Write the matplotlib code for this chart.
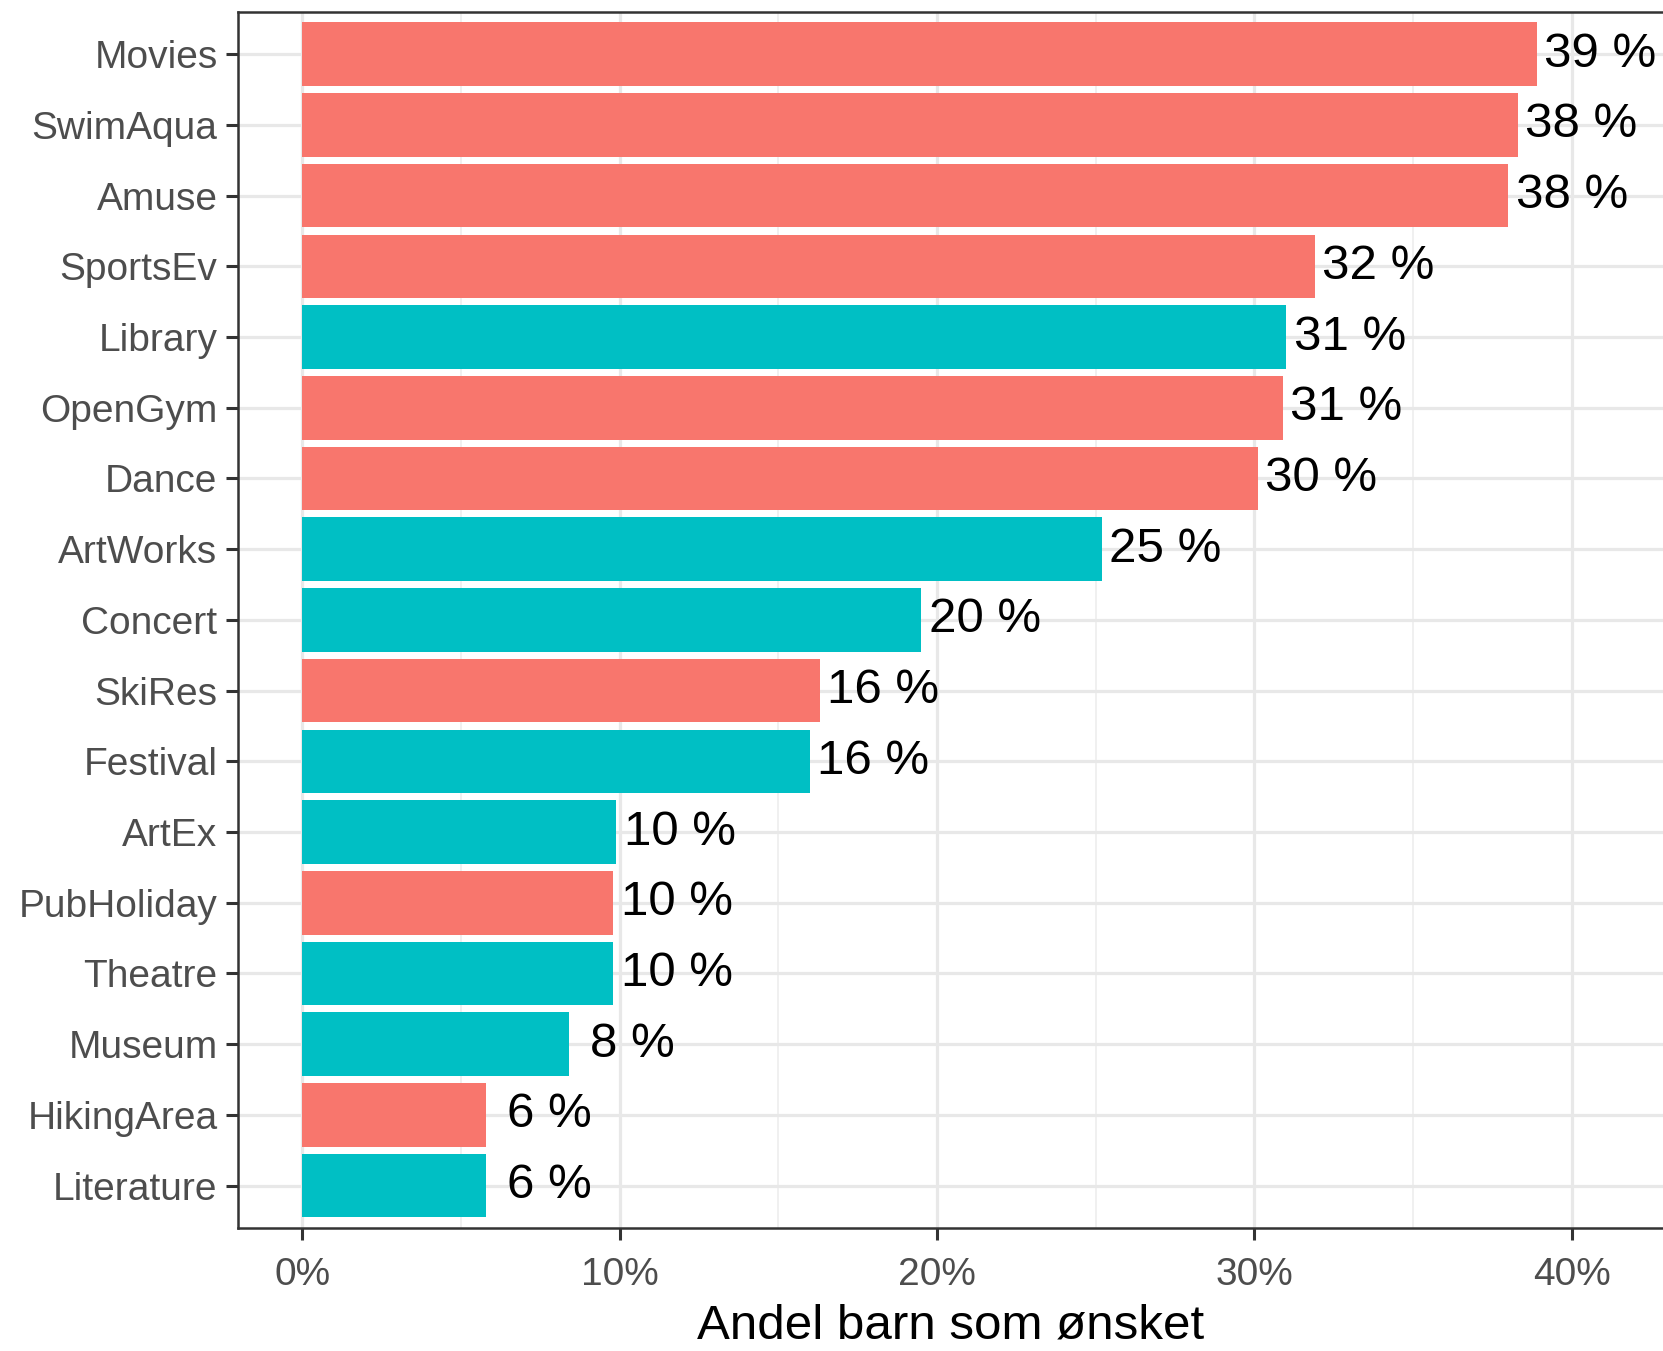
import matplotlib
matplotlib.use("Agg")
import matplotlib.pyplot as plt
import numpy as np

plt.rcParams['font.family'] = ['Liberation Sans', 'DejaVu Sans']

# activities from top to bottom
activities = ['Movies', 'SwimAqua', 'Amuse', 'SportsEv', 'Library', 'OpenGym',
              'Dance', 'ArtWorks', 'Concert', 'SkiRes', 'Festival', 'ArtEx',
              'PubHoliday', 'Theatre', 'Museum', 'HikingArea', 'Literature']
shares = [38.9, 38.3, 38.0, 31.9, 31.0, 30.9, 30.1, 25.2, 19.5, 16.3, 16.0,
          9.9, 9.8, 9.8, 8.4, 5.8, 5.8]
labels = ['39 %', '38 %', '38 %', '32 %', '31 %', '31 %', '30 %', '25 %', '20 %',
          '16 %', '16 %', '10 %', '10 %', '10 %', '8 %', '6 %', '6 %']
groups = ['A', 'A', 'A', 'A', 'B', 'A', 'A', 'B', 'B', 'A', 'B', 'B', 'A', 'B',
          'B', 'A', 'B']
group_colors = {'A': '#F8766D', 'B': '#00BFC4'}
xticks = [0, 10, 20, 30, 40]
xtick_labels = ['0%', '10%', '20%', '30%', '40%']

fig = plt.figure(figsize=(16.63, 13.51), dpi=100)
ax = fig.add_axes([0.1429, 0.091, 0.8571, 0.9003])

ypos = np.arange(len(activities))
cols = [group_colors[g] for g in groups]

# grid first
ax.set_axisbelow(True)
for x in [5, 15, 25, 35]:
    ax.axvline(x, color='#F0F0F0', lw=1.4, zorder=0)
ax.grid(True, which='major', color='#E8E8E8', lw=2.3, zorder=0)

ax.barh(ypos, shares, height=0.9, color=cols, zorder=2)

for y, v, lab in zip(ypos, shares, labels):
    ax.text(v + 2.0, y, lab, ha='center', va='center', fontsize=35.5,
            color='black', zorder=3)

ax.set_yticks(ypos)
ax.set_yticklabels(activities)
ax.set_xticks(xticks)
ax.set_xticklabels(xtick_labels)
ax.set_xlim(-2.03, 42.87)
ax.set_ylim(16.6, -0.6)

ax.tick_params(axis='both', labelsize=28, labelcolor='#4D4D4D', color='#333333',
               length=8.5, width=2.2)
ax.tick_params(axis='y', pad=6)
ax.tick_params(axis='x', pad=12)

for side in ['left', 'bottom', 'top']:
    ax.spines[side].set_color('#333333')
    ax.spines[side].set_linewidth(1.8)
ax.spines['right'].set_visible(False)

ax.set_xlabel('Andel barn som ønsket', fontsize=35.5, color='black', labelpad=8)

fig.savefig('out.png', dpi=100)
